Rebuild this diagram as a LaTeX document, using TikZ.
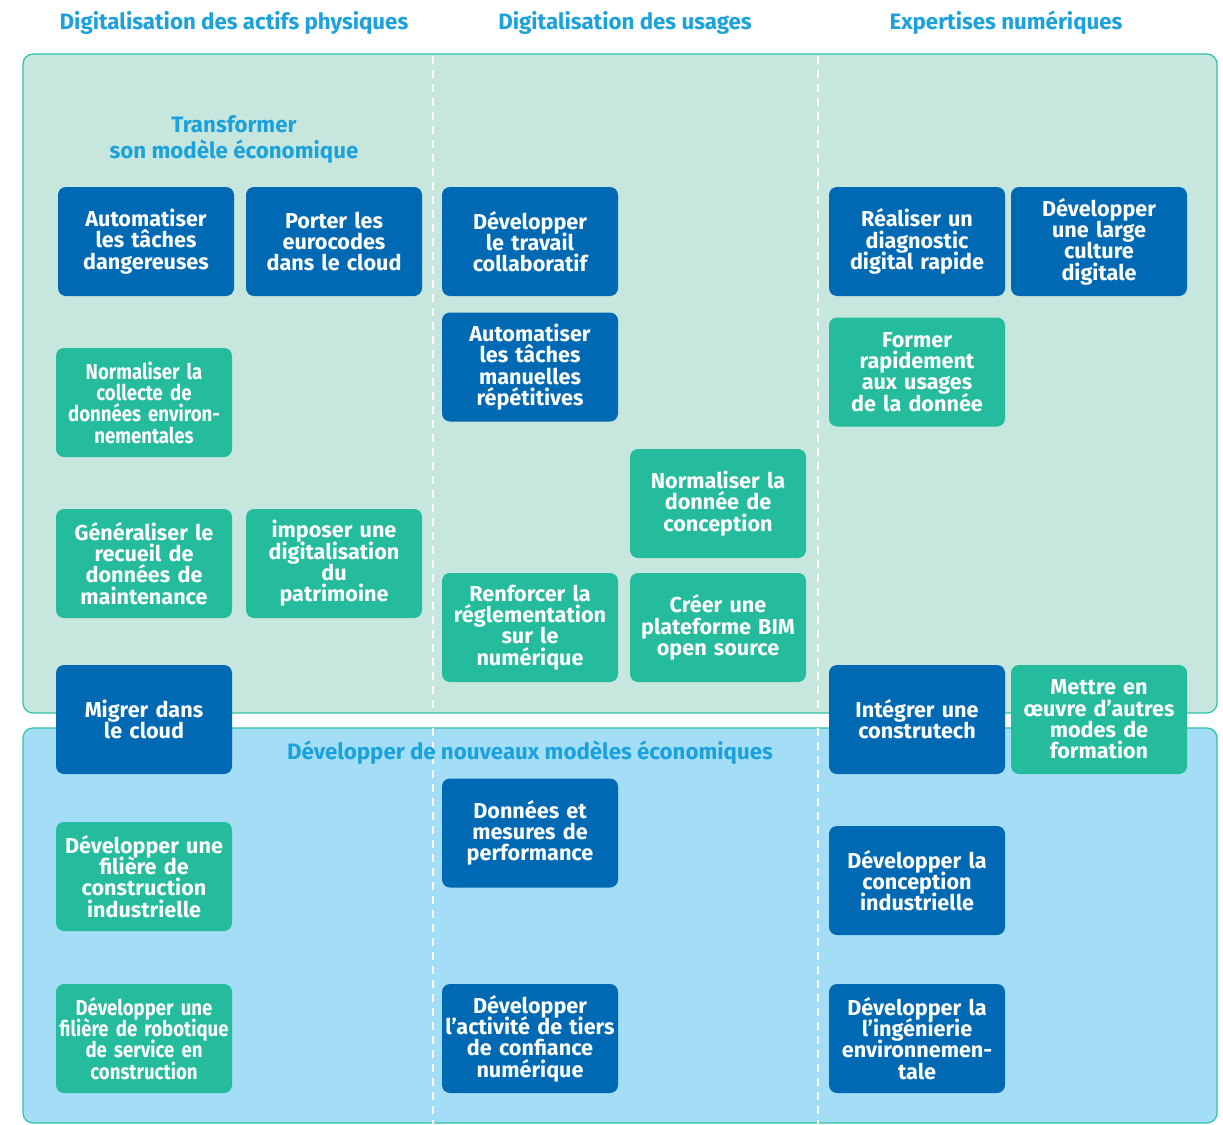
\documentclass[tikz,border=0pt]{standalone}
\usepackage{fontspec}
\setmainfont{Fira Sans}[BoldFont={Fira Sans Bold}]
\newfontfamily\condfont{Fira Sans}[FakeStretch=0.86,BoldFont={Fira Sans Bold}]
\definecolor{dblue}{HTML}{0069B4}
\definecolor{gbox}{HTML}{24BC9C}
\definecolor{toppanel}{HTML}{C7E6DE}
\definecolor{botpanel}{HTML}{A4DDF6}
\definecolor{panelline}{HTML}{2EC2A4}
\definecolor{headc}{HTML}{1BA2DC}
\newcommand{\cardfont}{\bfseries\fontsize{21.6}{21.3}\selectfont\lineskiplimit=-50pt\relax}
\newcommand{\headfont}{\bfseries\fontsize{22.3}{26}\selectfont\lineskiplimit=-50pt\relax}
\tikzset{
  card/.style={rounded corners=8pt, minimum width=176pt, minimum height=109pt, text width=176pt, align=center, inner sep=0pt, text=white, font=\cardfont},
  dcard/.style={card, fill=dblue},
  gcard/.style={card, fill=gbox},
  condcard/.style={gcard, font=\condfont\cardfont},
  heading/.style={text=headc, font=\headfont, align=center, inner sep=0pt},
  divider/.style={white, line width=2.5pt, dash pattern=on 8pt off 6pt},
  panel/.style={rounded corners=10pt, draw=panelline, line width=1.2pt}
}
\begin{document}
\begin{tikzpicture}[x=1pt,y=-1pt]
\useasboundingbox (0,0) rectangle (1223,1124);
\fill[white] (0,0) rectangle (1223,1124);
% panels
\path[panel, fill=toppanel] (23,54) rectangle (1217,713);
\path[panel, fill=botpanel] (23,728) rectangle (1217,1123);
% dividers
\coordinate (d1t) at (433,56); \coordinate (d1b) at (433,1124);
\coordinate (d2t) at (818,56); \coordinate (d2b) at (818,1124);
\draw[divider] (d1t) -- (d1b);
\draw[divider] (d2t) -- (d2b);
% headings
\node[heading] (h1) at (234,23) {Digitalisation des actifs physiques};
\node[heading] (h2) at (625,23) {Digitalisation des usages};
\node[heading] (h3) at (1006,23) {Expertises numériques};
\node[heading] (h4) at (234,140) {Transformer\\son modèle économique};
\node[heading] (h5) at (530,753) {Développer de nouveaux modèles économiques};
% cards
\node[dcard] (n1) at (146,241.5) {Automatiser\\les tâches\\dangereuses};
\node[dcard] (n2) at (334,241.5) {Porter les\\eurocodes\\dans le cloud};
\node[dcard] (n3) at (530,241.5) {Développer\\le travail\\collaboratif};
\node[dcard] (n4) at (917,241.5) {Réaliser un\\diagnostic\\digital rapide};
\node[dcard] (n5) at (1099,241.5) {Développer\\une large\\culture\\digitale};
\node[dcard] (n6) at (530,367) {Automatiser\\les tâches\\manuelles\\répétitives};
\node[gcard] (n7) at (917,372) {Former\\rapidement\\aux usages\\de la donnée};
\node[condcard] (n8) at (144,402.5) {Normaliser la\\collecte de\\données environ-\\nementales};
\node[gcard] (n9) at (718,503.5) {Normaliser la\\donnée de\\conception};
\node[gcard] (n10) at (144,563.5) {Généraliser le\\recueil de\\données de\\maintenance};
\node[gcard] (n11) at (334,563.5) {imposer une\\digitalisation\\du\\patrimoine};
\node[gcard] (n12) at (530,627.5) {Renforcer la\\réglementation\\sur le\\numérique};
\node[gcard] (n13) at (718,627.5) {Créer une\\plateforme BIM\\open source};
\node[dcard] (n14) at (144,719.5) {Migrer dans\\le cloud};
\node[dcard] (n15) at (917,719.5) {Intégrer une\\construtech};
\node[gcard] (n16) at (1099,719.5) {Mettre en\\œuvre d’autres\\modes de\\formation};
\node[dcard] (n17) at (530,833) {Données et\\mesures de\\performance};
\node[gcard] (n18) at (144,876.5) {Développer une\\filière de\\construction\\industrielle};
\node[dcard] (n19) at (917,880.5) {Développer la\\conception\\industrielle};
\node[condcard] (n20) at (144,1038.5) {Développer une\\filière de robotique\\de service en\\construction};
\node[dcard] (n21) at (530,1038.5) {Développer\\l’activité de tiers\\de confiance\\numérique};
\node[dcard] (n22) at (917,1038.5) {Développer la\\l’ingénierie\\environnemen-\\tale};
\end{tikzpicture}
\end{document}
